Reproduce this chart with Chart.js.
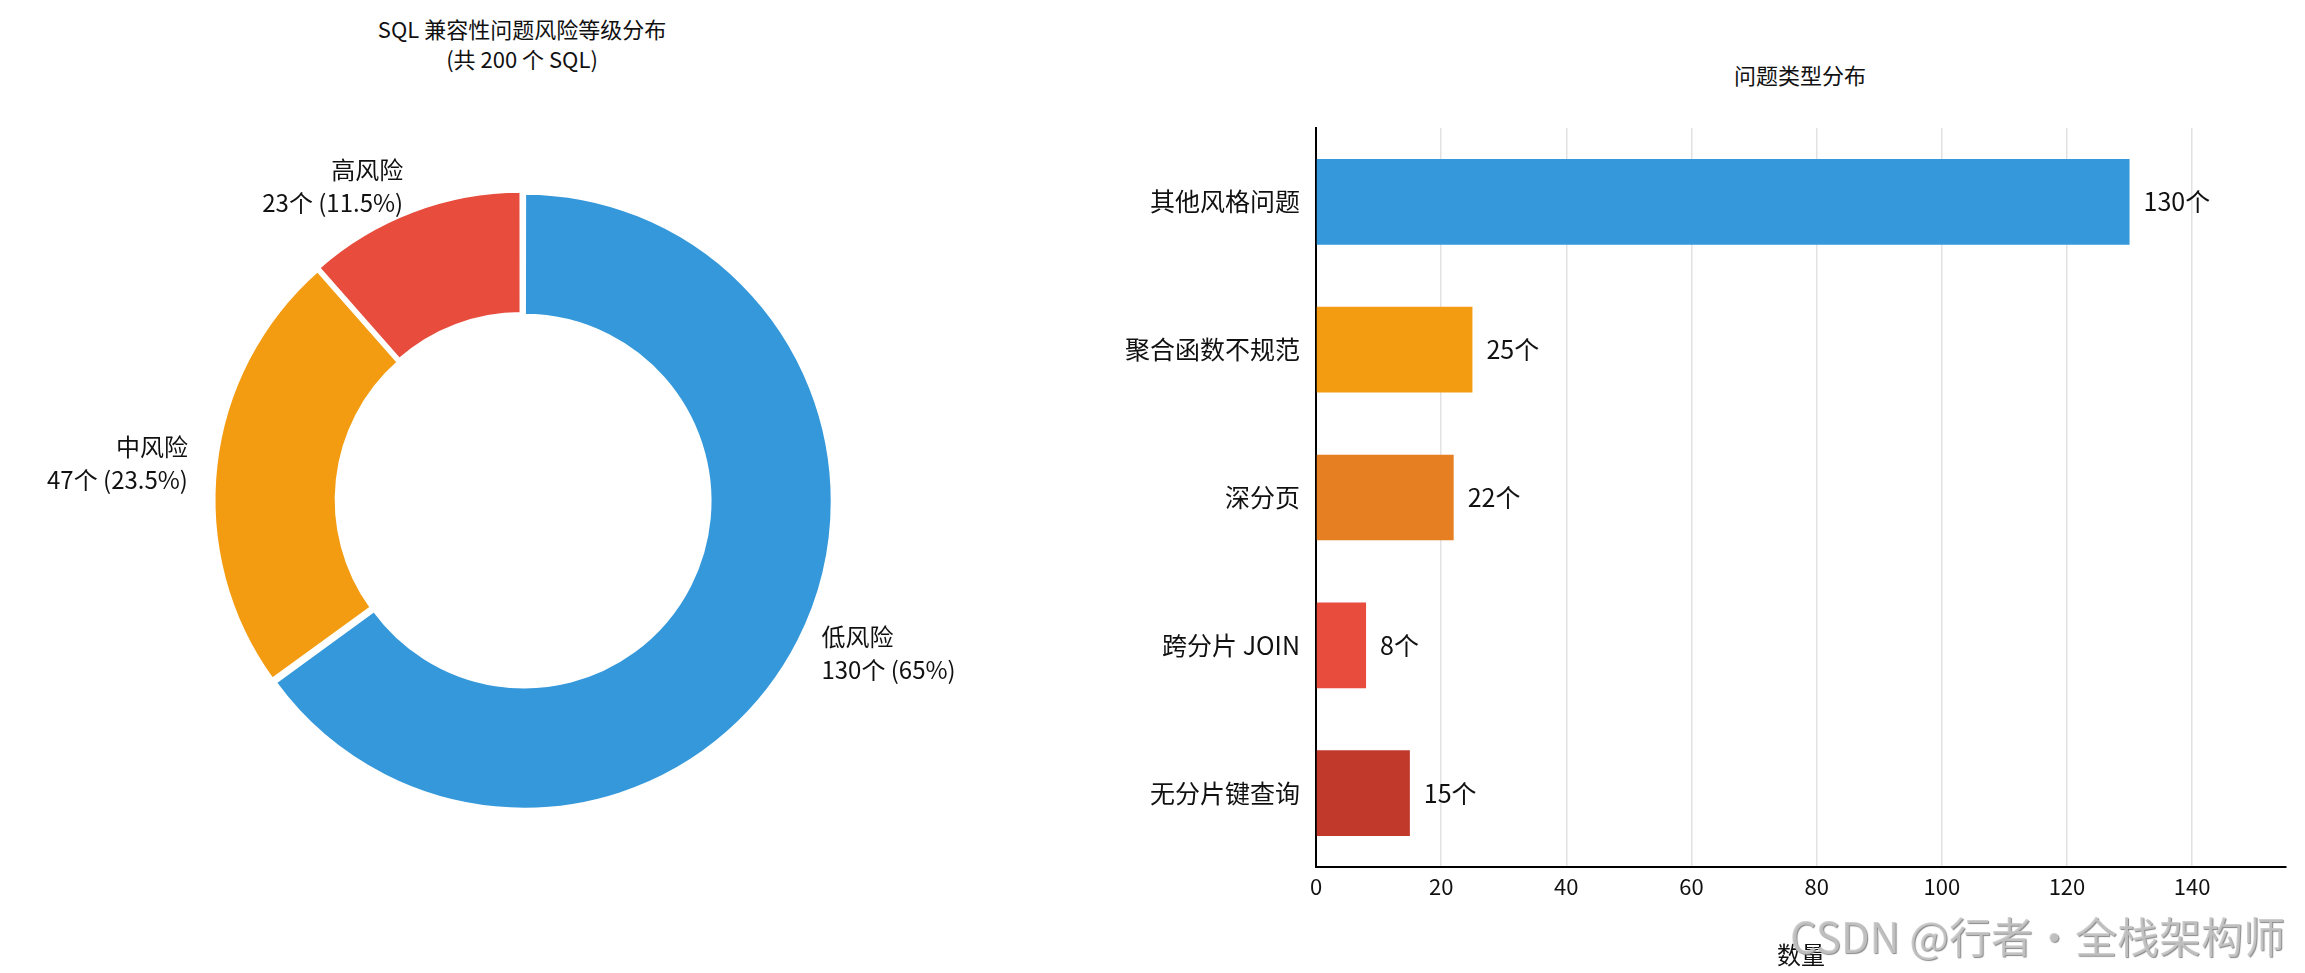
<!DOCTYPE html>
<html><head><meta charset="utf-8">
<script src="https://cdn.jsdelivr.net/npm/chart.js@4"></script>
<style>
body{margin:0;width:2305px;height:973px;background:#fff;position:relative;overflow:hidden;font-family:"Noto Sans CJK SC","Noto Sans",sans-serif;}
.t{position:absolute;text-align:center;color:#111;line-height:1.35;}
</style></head><body>
<div class="t" style="left:222px;width:600px;top:14px;font-size:22px;">SQL 兼容性问题风险等级分布<br>(共 200 个 SQL)</div>
<div class="t" style="left:1500px;width:600px;top:60px;font-size:22px;">问题类型分布</div>
<div style="position:absolute;left:0;top:140px;width:1044px;height:720px;"><canvas id="pie"></canvas></div>
<div style="position:absolute;left:1050px;top:0;width:1255px;height:973px;"><canvas id="bar"></canvas></div>
<div style="position:absolute;left:1790px;top:904px;font-size:42px;color:rgba(200,200,200,0.85);text-shadow:1px 1px 1px #888;white-space:nowrap;">CSDN @行者·全栈架构师</div>
<script>
const riskLabels = ["低风险","中风险","高风险"];
const riskValues = [130,47,23];
const riskColors = ["#3498db","#f39c12","#e74c3c"];
const typeLabels = ["其他风格问题","聚合函数不规范","深分页","跨分片 JOIN","无分片键查询"];
const typeValues = [130,25,22,8,15];
const typeColors = ["#3498db","#f39c12","#e67e22","#e74c3c","#c0392b"];
const xTicks = [0,20,40,60,80,100,120,140];
const FONT = '"Noto Sans CJK SC","Noto Sans",sans-serif';
Chart.defaults.font.family = FONT;
Chart.defaults.color = '#111';

const total = riskValues.reduce((a,b)=>a+b,0);
const pieLabels = {
  id:'pieLabels',
  afterDraw(c){
    const ctx=c.ctx; const meta=c.getDatasetMeta(0);
    ctx.save(); ctx.font='24px '+FONT; ctx.fillStyle='#111'; ctx.textBaseline='middle';
    meta.data.forEach((arc,i)=>{
      const mid=(arc.startAngle+arc.endAngle)/2;
      const r=arc.outerRadius*1.1;
      const x=arc.x+Math.cos(mid)*r, y=arc.y+Math.sin(mid)*r;
      ctx.textAlign=Math.cos(mid)>=0?'left':'right';
      const pct=(riskValues[i]/total*100);
      const p=Number.isInteger(pct)?pct.toFixed(0):pct.toFixed(1);
      ctx.fillText(riskLabels[i],x,y-16);
      ctx.fillText(riskValues[i]+'个 ('+p+'%)',x,y+17);
    });
    ctx.restore();
  }
};
new Chart(document.getElementById('pie'),{
  type:'doughnut',
  data:{labels:riskLabels,datasets:[{data:riskValues,backgroundColor:riskColors,borderColor:'#fff',borderWidth:3,offset:10,hoverOffset:0}]},
  options:{responsive:true,maintainAspectRatio:false,animation:false,cutout:'60%',
    layout:{padding:{top:48,bottom:48,left:200,right:200}},
    plugins:{legend:{display:false},tooltip:{enabled:false}}},
  plugins:[pieLabels]
});

const barLabels={
  id:'barLabels',
  afterDatasetsDraw(c){
    const ctx=c.ctx; const meta=c.getDatasetMeta(0);
    ctx.save(); ctx.font='25px '+FONT; ctx.fillStyle='#111'; ctx.textBaseline='middle'; ctx.textAlign='left';
    meta.data.forEach((b,i)=>{ ctx.fillText(typeValues[i]+'个',b.x+14,b.y); });
    ctx.restore();
  }
};
new Chart(document.getElementById('bar'),{
  type:'bar',
  data:{labels:typeLabels,datasets:[{data:typeValues,backgroundColor:typeColors,categoryPercentage:1,barPercentage:0.58}]},
  options:{indexAxis:'y',responsive:true,maintainAspectRatio:false,animation:false,
    layout:{padding:{top:128,right:19,left:0,bottom:0}},
    plugins:{legend:{display:false},tooltip:{enabled:false}},
    scales:{
      x:{min:0,max:155,
        afterBuildTicks(s){s.ticks=xTicks.map(v=>({value:v}));},
        afterFit(s){s.height=106;},
        ticks:{font:{size:22},color:'#111',padding:6},
        grid:{color:'#e2e2e2',borderDash:[8,6],drawTicks:false,lineWidth:1.5},
        border:{display:true,color:'#000',width:2},
        title:{display:true,text:'数量',font:{size:24},color:'#111',padding:{top:4}}
      },
      y:{afterFit(s){s.width=266;},
        ticks:{font:{size:25},color:'#111',padding:8},
        grid:{display:false,drawTicks:true,tickLength:8,tickColor:'#000'},
        border:{display:true,color:'#000',width:2}
      }
    }},
  plugins:[barLabels]
});
</script>
</body></html>
